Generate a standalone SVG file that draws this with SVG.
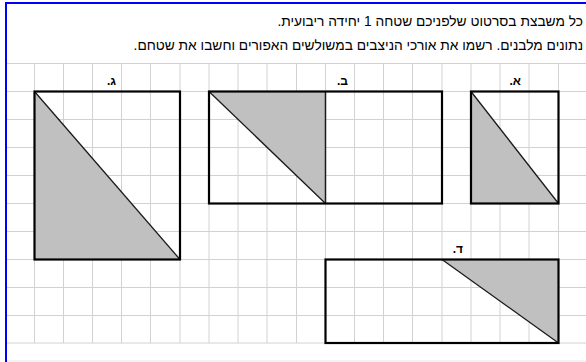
<svg xmlns="http://www.w3.org/2000/svg" width="586" height="362" viewBox="0 0 586 362">
<style>
.g{stroke:#d2d2d2;stroke-width:1;fill:none}
.r{fill:none;stroke:#000;stroke-width:2.2}
.t{fill:#c0c0c0;stroke:none}
.d{stroke:#1a1a1a;stroke-width:1.3;fill:none}
.txt{font-family:"Liberation Sans",Arial,sans-serif;font-size:13.75px;fill:#000}
.lbl{font-family:"Liberation Sans",Arial,sans-serif;font-size:12px;font-weight:bold;fill:#000}
</style>
<rect x="0" y="0" width="586" height="362" fill="#fff"/>
<g id="grid">
<path class="g" d="M6 63.5H586M6 91.5H586M6 119.5H586M6 147.5H586M6 175.5H586M6 203.5H586M6 231.5H586M6 259.5H586M6 287.5H586M6 315.5H586M6 343H586"/>
<path class="g" d="M34.5 63.5V343M63.5 63.5V343M92.5 63.5V343M121.5 63.5V343M150.5 63.5V343M180 63.5V343M209 63.5V343M238 63.5V343M267 63.5V343M296.5 63.5V343M325.5 63.5V343M354.5 63.5V343M383.5 63.5V343M412.5 63.5V343M442 63.5V343M471 63.5V343M500 63.5V343M529 63.5V343M558.5 63.5V343"/>
</g>
<line x1="6" y1="361" x2="586" y2="361" stroke="#e4e4ee" stroke-width="1"/>
<g id="frame">
<line x1="5" y1="3" x2="586" y2="3" stroke="#0000ff" stroke-width="2"/>
<line x1="6" y1="2" x2="6" y2="362" stroke="#0000ff" stroke-width="2"/>
</g>
<g id="instructions">
<text class="txt" x="583" y="26" direction="rtl" text-anchor="start">כל משבצת בסרטוט שלפניכם שטחה 1 יחידה ריבועית.</text>
<text class="txt" x="583" y="50" direction="rtl" text-anchor="start">נתונים מלבנים. רשמו את אורכי הניצבים במשולשים האפורים וחשבו את שטחם.</text>
</g>
<g id="shape-gimel">
<polygon class="t" points="34.5,91.5 34.5,259.5 180,259.5"/>
<line class="d" x1="34.5" y1="91.5" x2="180" y2="259.5"/>
<rect class="r" x="34.5" y="91.5" width="145.5" height="168"/>
<text class="lbl" x="116" y="85" direction="rtl" text-anchor="start">ג.</text>
</g>
<g id="shape-bet">
<polygon class="t" points="209,91.5 325.5,91.5 325.5,203.5"/>
<line class="d" x1="209" y1="91.5" x2="325.5" y2="203.5"/>
<line x1="325.5" y1="91.5" x2="325.5" y2="203.5" stroke="#1a1a1a" stroke-width="1.5"/>
<rect class="r" x="209" y="91.5" width="233" height="112"/>
<text class="lbl" x="348" y="85" direction="rtl" text-anchor="start">ב.</text>
</g>
<g id="shape-alef">
<polygon class="t" points="471,91.5 471,203.5 558.5,203.5"/>
<line class="d" x1="471" y1="91.5" x2="558.5" y2="203.5"/>
<rect class="r" x="471" y="91.5" width="87.5" height="112"/>
<text class="lbl" x="521" y="85" direction="rtl" text-anchor="start">א.</text>
</g>
<g id="shape-dalet">
<polygon class="t" points="442,259.5 558.5,259.5 558.5,343"/>
<line class="d" x1="442" y1="259.5" x2="558.5" y2="343"/>
<rect class="r" x="325.5" y="259.5" width="233" height="83.5"/>
<text class="lbl" x="463" y="253" direction="rtl" text-anchor="start">ד.</text>
</g>
</svg>
